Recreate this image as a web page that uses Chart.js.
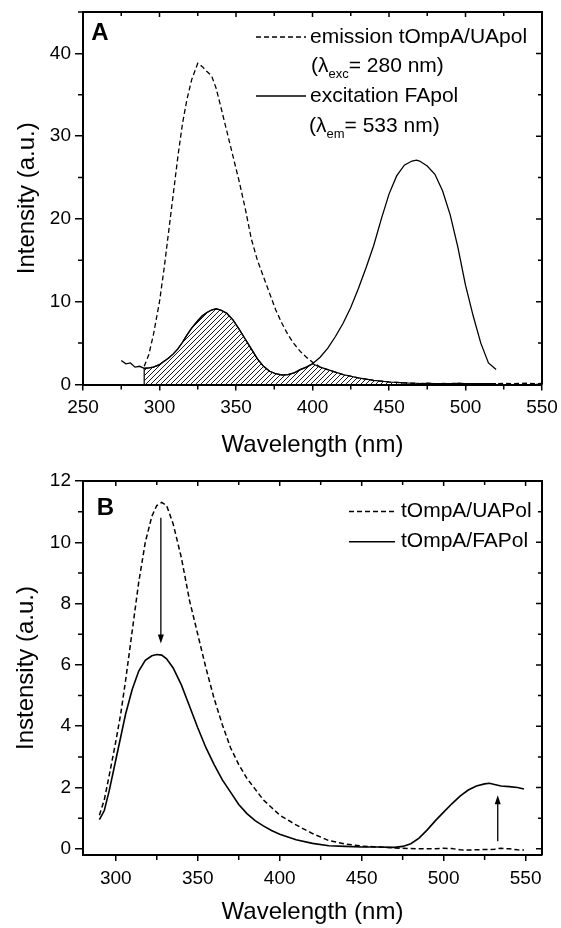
<!DOCTYPE html>
<html>
<head>
<meta charset="utf-8">
<script src="https://cdn.jsdelivr.net/npm/chart.js@4.4.1/dist/chart.umd.min.js"></script>
<style>
  body { margin: 0; background: #fff; }
  canvas { position: absolute; left: 0; }
  #chartA { top: 0; }
  #chartB { top: 464px; }
</style>
</head>
<body>
<canvas id="chartA" width="561" height="464"></canvas>
<canvas id="chartB" width="561" height="464"></canvas>
<script>
// ---- Panel A: emission tOmpA/UApol and excitation FApol ----
const wavelengthA = [275, 278, 281, 284, 287, 290, 293, 296, 300, 303, 306, 309, 312, 315, 318, 321,
  325, 328, 331, 334, 337, 340, 344, 348, 352, 356, 360, 364, 368, 372, 376, 380, 384, 388, 392, 396, 400,
  405, 410, 415, 420, 425, 430, 435, 440, 445, 450, 455, 460, 465, 468, 470, 475, 480, 485, 490, 495, 500,
  505, 510, 515, 520, 525, 530, 535, 540, 545, 550];
const excitationFApol = [2.9, 2.5, 2.6, 2.1, 2.2, 1.95, 2.0, 2.1, 2.4, 2.8, 3.2, 3.7, 4.3, 5.1, 6.0, 6.8,
  7.7, 8.3, 8.7, 9.0, 9.15, 9.0, 8.6, 7.8, 6.7, 5.5, 4.3, 3.1, 2.2, 1.6, 1.3, 1.15, 1.2, 1.4, 1.8, 2.1, 2.5,
  3.3, 4.4, 5.8, 7.4, 9.3, 11.6, 14.1, 16.8, 20.0, 23.0, 25.2, 26.5, 27.0, 27.1, 27.0, 26.4, 25.4, 23.4, 20.5, 16.6, 12.0,
  8.3, 5.0, 2.6, 1.8, null, null, null, null, null, null];
const emissionUApol = [null, null, null, null, null, 2.2, 3.6, 6.0, 10.0, 14.0, 18.5, 23.0, 27.5, 31.5, 34.5, 36.8,
  38.8, 38.4, 37.8, 37.3, 35.8, 33.6, 30.6, 27.6, 24.6, 21.3, 17.6, 15.0, 13.0, 11.0, 9.0, 7.4, 6.0, 4.9, 4.0, 3.3, 2.7,
  2.1, 1.8, 1.5, 1.2, 1.0, 0.8, 0.65, 0.5, 0.4, 0.3, 0.25, 0.2, 0.15, 0.15, 0.1, 0.15, 0.1, 0.12, 0.1, 0.15, 0.1,
  0.12, 0.1, 0.12, 0.1, 0.15, 0.1, 0.12, 0.15, 0.1, 0.12];
// hatched overlap region, top edge as seen in the figure
const overlapWavelength = [290, 290, 293, 296, 300, 303, 306, 309, 312, 315, 318, 321, 325, 328, 331, 334, 337, 340,
  344, 348, 352, 356, 360, 364, 368, 372, 376, 380, 384, 388, 392, 396, 400, 405, 410, 415, 420, 425, 430, 435,
  440, 445, 450, 455, 460, 465, 468, 470, 475, 480, 485, 490, 495, 500, 505, 510, 515, 520];
const overlapIntensity = [0, 1.95, 2.0, 2.1, 2.4, 2.8, 3.2, 3.7, 4.3, 5.1, 6.0, 6.8, 7.7, 8.3, 8.7, 9.0, 9.15, 9.0,
  8.6, 7.8, 6.7, 5.5, 4.3, 3.1, 2.2, 1.6, 1.3, 1.15, 1.2, 1.4, 1.8, 2.1, 2.5, 2.1, 1.8, 1.5, 1.2, 1.0, 0.8, 0.65,
  0.5, 0.4, 0.3, 0.25, 0.2, 0.15, 0.15, 0.1, 0.15, 0.1, 0.12, 0.1, 0.15, 0.1, 0.12, 0.1, 0.12, 0.1];
const xRangeA = [250, 550];
const yRangeA = [0, 45];

// ---- Panel B: tOmpA/UAPol vs tOmpA/FAPol emission ----
const wavelengthB = [290, 293, 296, 300, 303, 306, 310, 314, 318, 322, 325, 328, 331, 335,
  340, 345, 350, 355, 360, 365, 370, 375, 380, 385, 390, 395, 400,
  410, 420, 430, 440, 450, 460, 470,
  475, 480, 485, 490, 495, 500, 505, 510, 515, 520, 525, 528, 531, 535, 540, 545, 549];
const uapolB = [1.1, 1.6, 2.4, 3.5, 4.4, 5.5, 7.1, 8.7, 10.0, 10.85, 11.2, 11.3, 11.2, 10.6,
  9.5, 8.1, 7.0, 5.9, 4.9, 4.05, 3.3, 2.75, 2.3, 1.95, 1.6, 1.35, 1.1,
  0.78, 0.5, 0.27, 0.16, 0.09, 0.06, 0.03,
  0.02, 0.01, 0.0, 0.0, 0.0, 0.02, 0.01, -0.03, -0.04, -0.03, -0.02, -0.02, -0.01, 0.02, 0.0, -0.03, -0.04];
const fapolB = [0.95, 1.25, 1.9, 2.9, 3.65, 4.4, 5.2, 5.8, 6.15, 6.3, 6.34, 6.32, 6.2, 5.9,
  5.35, 4.65, 3.95, 3.3, 2.75, 2.25, 1.85, 1.45, 1.15, 0.92, 0.75, 0.6, 0.48,
  0.3, 0.18, 0.1, 0.08, 0.06, 0.06, 0.05,
  0.08, 0.17, 0.35, 0.62, 0.92, 1.2, 1.47, 1.72, 1.92, 2.05, 2.12, 2.14, 2.1, 2.05, 2.03, 2.0, 1.95];
const arrowsB = [{x: 327.5, from: 10.8, to: 6.7}, {x: 533, from: 0.25, to: 1.75}];
const xRangeB = [280, 560];
const yRangeB = [-0.2, 12];

const family = '"Liberation Sans", Arial, Helvetica, sans-serif';
Chart.defaults.font.family = family;
Chart.defaults.color = '#000';

const pts = (xs, ys) => xs.map((v, i) => ({x: v, y: ys[i]}));

function hatchPattern() {
  const c = document.createElement('canvas');
  c.width = 5; c.height = 5;
  const g = c.getContext('2d');
  g.strokeStyle = '#000';
  g.lineWidth = 0.9;
  g.beginPath();
  g.moveTo(0, 5); g.lineTo(5, 0);
  g.moveTo(-1, 1); g.lineTo(1, -1);
  g.moveTo(4, 6); g.lineTo(6, 4);
  g.stroke();
  return g.createPattern(c, 'repeat');
}

// top/right axis lines, inward ticks, and minor ticks
const framePlugin = {
  id: 'frame',
  afterDraw(chart, args, o) {
    const {ctx, chartArea: a, scales: {x, y}} = chart;
    ctx.save();
    ctx.strokeStyle = '#000';
    ctx.lineWidth = 2;
    ctx.beginPath();
    ctx.moveTo(a.left, a.top);
    ctx.lineTo(a.right, a.top);
    ctx.lineTo(a.right, a.bottom);
    ctx.stroke();
    ctx.lineWidth = 1.5;
    ctx.beginPath();
    for (let v = Math.ceil(x.min / o.xMinor) * o.xMinor; v <= x.max; v += o.xMinor) {
      const p = x.getPixelForValue(v);
      const major = v % o.xMajor === 0;
      if (!major) { ctx.moveTo(p, a.bottom); ctx.lineTo(p, a.bottom + 5); }
      ctx.moveTo(p, a.top); ctx.lineTo(p, a.top + (major ? 5 : 4));
    }
    for (let v = Math.ceil(y.min / o.yMinor) * o.yMinor; v <= y.max; v += o.yMinor) {
      const p = y.getPixelForValue(v);
      const major = v % o.yMajor === 0;
      if (!major) { ctx.moveTo(a.left - 5, p); ctx.lineTo(a.left, p); }
      ctx.moveTo(a.right, p); ctx.lineTo(a.right - (major ? 6 : 4), p);
    }
    ctx.stroke();
    ctx.restore();
  }
};

// panel letter, legend with subscripts, arrows
const notesPlugin = {
  id: 'notes',
  afterDraw(chart, args, o) {
    const {ctx, scales: {x, y}} = chart;
    ctx.save();
    ctx.fillStyle = '#000';
    ctx.strokeStyle = '#000';
    ctx.textBaseline = 'middle';
    ctx.textAlign = 'center';
    ctx.font = 'bold 24px ' + family;
    ctx.fillText(o.letter.text, o.letter.x, o.letter.y);

    ctx.textAlign = 'left';
    o.rows.forEach(r => {
      if (r.dash) {
        ctx.lineWidth = o.sampleWidth;
        ctx.setLineDash(r.dash);
        ctx.beginPath();
        ctx.moveTo(o.sample[0], r.y);
        ctx.lineTo(o.sample[1], r.y);
        ctx.stroke();
        ctx.setLineDash([]);
      }
      let tx = r.x;
      r.parts.forEach(p => {
        ctx.font = (p.sub ? '13px ' : '21px ') + family;
        ctx.fillText(p.t, tx, r.y + (p.sub ? 8 : 0));
        tx += ctx.measureText(p.t).width;
      });
    });

    (o.arrows || []).forEach(ar => {
      const px = x.getPixelForValue(ar.x);
      const y0 = y.getPixelForValue(ar.from);
      const y1 = y.getPixelForValue(ar.to);
      const dir = Math.sign(y1 - y0);
      ctx.lineWidth = 1.3;
      ctx.beginPath();
      ctx.moveTo(px, y0);
      ctx.lineTo(px, y1 - dir * 6);
      ctx.stroke();
      ctx.beginPath();
      ctx.moveTo(px, y1);
      ctx.lineTo(px - 3, y1 - dir * 9);
      ctx.lineTo(px + 3, y1 - dir * 9);
      ctx.closePath();
      ctx.fill();
    });
    ctx.restore();
  }
};

function xAxis(range, title, height) {
  return {
    type: 'linear', min: range[0], max: range[1],
    ticks: {stepSize: 50, includeBounds: false, autoSkip: false, maxRotation: 0, padding: 6, font: {size: 19}, color: '#000'},
    grid: {drawOnChartArea: false, drawTicks: true, tickLength: 6, color: '#000', lineWidth: 1.5},
    border: {display: true, color: '#000', width: 2},
    title: {display: true, text: title, font: {size: 24}, color: '#000', padding: {top: 0, bottom: 0}},
    afterFit(s) { s.height = height; s.paddingLeft = 0; s.paddingRight = 0; }
  };
}

function yAxis(range, step, title, titlePad) {
  return {
    type: 'linear', min: range[0], max: range[1],
    ticks: {stepSize: step, includeBounds: false, padding: 4, font: {size: 19}, color: '#000'},
    grid: {drawOnChartArea: false, drawTicks: true, tickLength: 8, color: '#000', lineWidth: 1.5},
    border: {display: true, color: '#000', width: 2},
    title: {display: true, text: title, font: {size: 24}, color: '#000', padding: {top: titlePad, bottom: 0}},
    afterFit(s) { s.width = 83; s.paddingTop = 0; s.paddingBottom = 0; }
  };
}

const lineDefaults = {borderColor: '#000', pointRadius: 0, fill: false, tension: 0};

new Chart(document.getElementById('chartA'), {
  type: 'line',
  data: {
    datasets: [
      {...lineDefaults, label: 'emission tOmpA/UApol', data: pts(wavelengthA, emissionUApol), borderWidth: 1.3, borderDash: [5, 3]},
      {...lineDefaults, label: 'excitation FApol', data: pts(wavelengthA, excitationFApol), borderWidth: 1.3},
      {...lineDefaults, label: 'overlap', data: pts(overlapWavelength, overlapIntensity), borderWidth: 1.2,
        fill: 'origin', backgroundColor: hatchPattern()}
    ]
  },
  options: {
    responsive: false,
    animation: false,
    devicePixelRatio: 1,
    layout: {padding: {left: 0, right: 19, top: 12, bottom: 4}},
    scales: {
      x: xAxis(xRangeA, 'Wavelength (nm)', 75.5),
      y: yAxis(yRangeA, 10, 'Intensity (a.u.)', 12.6)
    },
    plugins: {
      legend: {display: false},
      tooltip: {enabled: false},
      frame: {xMinor: 25, xMajor: 50, yMinor: 5, yMajor: 10},
      notes: {
        letter: {text: 'A', x: 100, y: 33},
        sample: [256, 306],
        sampleWidth: 1.3,
        rows: [
          {y: 37, x: 310, dash: [5, 3], parts: [{t: 'emission tOmpA/UApol'}]},
          {y: 66.5, x: 311, dash: null, parts: [{t: '(λ'}, {t: 'exc', sub: true}, {t: '= 280 nm)'}]},
          {y: 96, x: 310, dash: [], parts: [{t: 'excitation FApol'}]},
          {y: 126, x: 309, dash: null, parts: [{t: '(λ'}, {t: 'em', sub: true}, {t: '= 533 nm)'}]}
        ]
      }
    }
  },
  plugins: [framePlugin, notesPlugin]
});

new Chart(document.getElementById('chartB'), {
  type: 'line',
  data: {
    datasets: [
      {...lineDefaults, label: 'tOmpA/UAPol', data: pts(wavelengthB, uapolB), borderWidth: 1.5, borderDash: [5, 3]},
      {...lineDefaults, label: 'tOmpA/FAPol', data: pts(wavelengthB, fapolB), borderWidth: 1.6}
    ]
  },
  options: {
    responsive: false,
    animation: false,
    devicePixelRatio: 1,
    layout: {padding: {left: 0, right: 19, top: 17, bottom: 1}},
    scales: {
      x: xAxis(xRangeB, 'Wavelength (nm)', 72),
      y: yAxis(yRangeB, 2, 'Instensity (a.u.)', 11.6)
    },
    plugins: {
      legend: {display: false},
      tooltip: {enabled: false},
      frame: {xMinor: 25, xMajor: 50, yMinor: 1, yMajor: 2},
      notes: {
        letter: {text: 'B', x: 105.5, y: 44},
        sample: [349, 395],
        sampleWidth: 1.5,
        rows: [
          {y: 47.5, x: 401, dash: [5, 3], parts: [{t: 'tOmpA/UAPol'}]},
          {y: 77.7, x: 401, dash: [], parts: [{t: 'tOmpA/FAPol'}]}
        ],
        arrows: arrowsB
      }
    }
  },
  plugins: [framePlugin, notesPlugin]
});
</script>
</body>
</html>
